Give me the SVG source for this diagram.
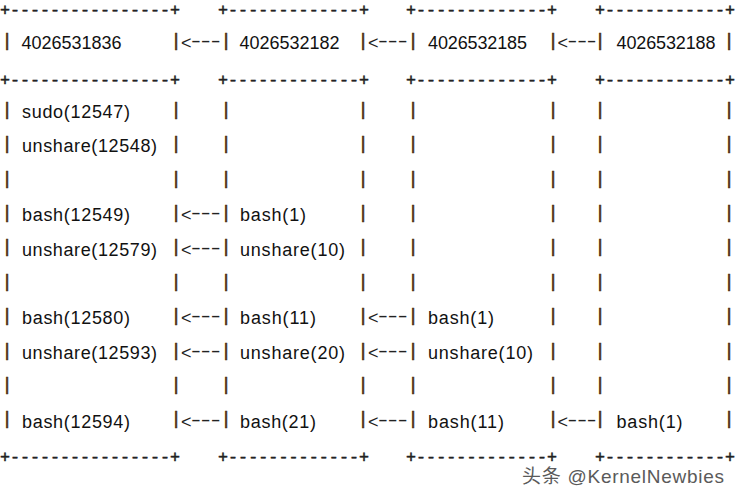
<svg xmlns="http://www.w3.org/2000/svg" width="741" height="502" viewBox="0 0 741 502">
<style>
.bd{font-family:"Liberation Mono",monospace;font-size:16.67px;fill:#222;stroke:#222;stroke-width:0.5}
.t{font-family:"Liberation Sans",Arial,sans-serif;font-size:18px;fill:#111}
.p{font-family:"Liberation Sans",Arial,sans-serif;font-size:18px;fill:#4e2a10;stroke:#4e2a10;stroke-width:0.6;text-anchor:middle}
.a{font-family:"Liberation Sans",Arial,sans-serif;font-size:18px;fill:#222}
.d{font-family:"Liberation Sans",Arial,sans-serif;font-size:18px;fill:#222}
.w{font-family:"Liberation Sans","Noto Sans CJK SC",sans-serif;font-size:19px;fill:#5a5a5a}
</style>
<rect width="741" height="502" fill="#fff"/>
<g id="ns-4026531836">
<text class="bd" x="0" y="15" textLength="180" lengthAdjust="spacing">+----------------+</text>
<text class="bd" x="0" y="84.5" textLength="180" lengthAdjust="spacing">+----------------+</text>
<text class="bd" x="0" y="461.5" textLength="180" lengthAdjust="spacing">+----------------+</text>
<text class="p" x="7 7 7 7 7 7 7 7 7 7 7" y="45.7 114.7 149.1 183.5 217.9 252.3 286.7 321.1 355.5 389.9 424.3">|||||||||||</text>
<text class="p" x="176 176 176 176 176 176 176 176 176 176 176" y="45.7 114.7 149.1 183.5 217.9 252.3 286.7 321.1 355.5 389.9 424.3">|||||||||||</text>
<text class="t" x="21.5" y="49" textLength="100" lengthAdjust="spacing">4026531836</text>
<text class="t" x="22" y="118" textLength="108" lengthAdjust="spacing">sudo(12547)</text>
<text class="t" x="22" y="152.4" textLength="135" lengthAdjust="spacing">unshare(12548)</text>
<text class="t" x="22" y="221.2" textLength="108" lengthAdjust="spacing">bash(12549)</text>
<text class="t" x="22" y="255.6" textLength="135" lengthAdjust="spacing">unshare(12579)</text>
<text class="t" x="22" y="324.4" textLength="108" lengthAdjust="spacing">bash(12580)</text>
<text class="t" x="22" y="358.8" textLength="135" lengthAdjust="spacing">unshare(12593)</text>
<text class="t" x="22" y="427.6" textLength="108" lengthAdjust="spacing">bash(12594)</text>
</g>
<g id="ns-4026532182">
<text class="bd" x="217.96" y="15" textLength="151.1" lengthAdjust="spacing">+-------------+</text>
<text class="bd" x="217.96" y="84.5" textLength="151.1" lengthAdjust="spacing">+-------------+</text>
<text class="bd" x="217.96" y="461.5" textLength="151.1" lengthAdjust="spacing">+-------------+</text>
<text class="p" x="226 226 226 226 226 226 226 226 226 226 226" y="45.7 114.7 149.1 183.5 217.9 252.3 286.7 321.1 355.5 389.9 424.3">|||||||||||</text>
<text class="p" x="363 363 363 363 363 363 363 363 363 363 363" y="45.7 114.7 149.1 183.5 217.9 252.3 286.7 321.1 355.5 389.9 424.3">|||||||||||</text>
<text class="t" x="239.5" y="49" textLength="100" lengthAdjust="spacing">4026532182</text>
<text class="t" x="240" y="221.2" textLength="66" lengthAdjust="spacing">bash(1)</text>
<text class="t" x="240" y="255.6" textLength="105" lengthAdjust="spacing">unshare(10)</text>
<text class="t" x="240" y="324.4" textLength="76" lengthAdjust="spacing">bash(11)</text>
<text class="t" x="240" y="358.8" textLength="105" lengthAdjust="spacing">unshare(20)</text>
<text class="t" x="240" y="427.6" textLength="76" lengthAdjust="spacing">bash(21)</text>
</g>
<g id="ns-4026532185">
<text class="bd" x="405.96" y="15" textLength="151.1" lengthAdjust="spacing">+-------------+</text>
<text class="bd" x="405.96" y="84.5" textLength="151.1" lengthAdjust="spacing">+-------------+</text>
<text class="bd" x="405.96" y="461.5" textLength="151.1" lengthAdjust="spacing">+-------------+</text>
<text class="p" x="413 413 413 413 413 413 413 413 413 413 413" y="45.7 114.7 149.1 183.5 217.9 252.3 286.7 321.1 355.5 389.9 424.3">|||||||||||</text>
<text class="p" x="553 553 553 553 553 553 553 553 553 553 553" y="45.7 114.7 149.1 183.5 217.9 252.3 286.7 321.1 355.5 389.9 424.3">|||||||||||</text>
<text class="t" x="428" y="49" textLength="99" lengthAdjust="spacing">4026532185</text>
<text class="t" x="428" y="324.4" textLength="66" lengthAdjust="spacing">bash(1)</text>
<text class="t" x="428" y="358.8" textLength="105" lengthAdjust="spacing">unshare(10)</text>
<text class="t" x="428" y="427.6" textLength="76" lengthAdjust="spacing">bash(11)</text>
</g>
<g id="ns-4026532188">
<text class="bd" x="595" y="15" textLength="140" lengthAdjust="spacing">+------------+</text>
<text class="bd" x="595" y="84.5" textLength="140" lengthAdjust="spacing">+------------+</text>
<text class="bd" x="595" y="461.5" textLength="140" lengthAdjust="spacing">+------------+</text>
<text class="p" x="600 600 600 600 600 600 600 600 600 600 600" y="45.7 114.7 149.1 183.5 217.9 252.3 286.7 321.1 355.5 389.9 424.3">|||||||||||</text>
<text class="p" x="729 729 729 729 729 729 729 729 729 729 729" y="45.7 114.7 149.1 183.5 217.9 252.3 286.7 321.1 355.5 389.9 424.3">|||||||||||</text>
<text class="t" x="616.5" y="49" textLength="99" lengthAdjust="spacing">4026532188</text>
<text class="t" x="616.5" y="427.6" textLength="66" lengthAdjust="spacing">bash(1)</text>
</g>
<g id="connectors">
<g id="c-h1"><text class="a" x="181" y="49">&lt;</text><text class="d" x="191" y="47" textLength="29.5" lengthAdjust="spacingAndGlyphs">---</text></g>
<g id="c-h2"><text class="a" x="368" y="49">&lt;</text><text class="d" x="378" y="47" textLength="29.5" lengthAdjust="spacingAndGlyphs">---</text></g>
<g id="c-h3"><text class="a" x="557.5" y="49">&lt;</text><text class="d" x="567.5" y="47" textLength="29" lengthAdjust="spacingAndGlyphs">---</text></g>
<g id="c-r3"><text class="a" x="181" y="221.2">&lt;</text><text class="d" x="191" y="219.2" textLength="29.5" lengthAdjust="spacingAndGlyphs">---</text></g>
<g id="c-r4"><text class="a" x="181" y="255.6">&lt;</text><text class="d" x="191" y="253.6" textLength="29.5" lengthAdjust="spacingAndGlyphs">---</text></g>
<g id="c-r6a"><text class="a" x="181" y="324.4">&lt;</text><text class="d" x="191" y="322.4" textLength="29.5" lengthAdjust="spacingAndGlyphs">---</text></g>
<g id="c-r6b"><text class="a" x="368" y="324.4">&lt;</text><text class="d" x="378" y="322.4" textLength="29.5" lengthAdjust="spacingAndGlyphs">---</text></g>
<g id="c-r7a"><text class="a" x="181" y="358.8">&lt;</text><text class="d" x="191" y="356.8" textLength="29.5" lengthAdjust="spacingAndGlyphs">---</text></g>
<g id="c-r7b"><text class="a" x="368" y="358.8">&lt;</text><text class="d" x="378" y="356.8" textLength="29.5" lengthAdjust="spacingAndGlyphs">---</text></g>
<g id="c-r9a"><text class="a" x="181" y="427.6">&lt;</text><text class="d" x="191" y="425.6" textLength="29.5" lengthAdjust="spacingAndGlyphs">---</text></g>
<g id="c-r9b"><text class="a" x="368" y="427.6">&lt;</text><text class="d" x="378" y="425.6" textLength="29.5" lengthAdjust="spacingAndGlyphs">---</text></g>
<g id="c-r9c"><text class="a" x="557.5" y="427.6">&lt;</text><text class="d" x="567.5" y="425.6" textLength="29" lengthAdjust="spacingAndGlyphs">---</text></g>
</g>
<text class="w" x="522" y="483" textLength="202" lengthAdjust="spacing">头条 @KernelNewbies</text>
</svg>
